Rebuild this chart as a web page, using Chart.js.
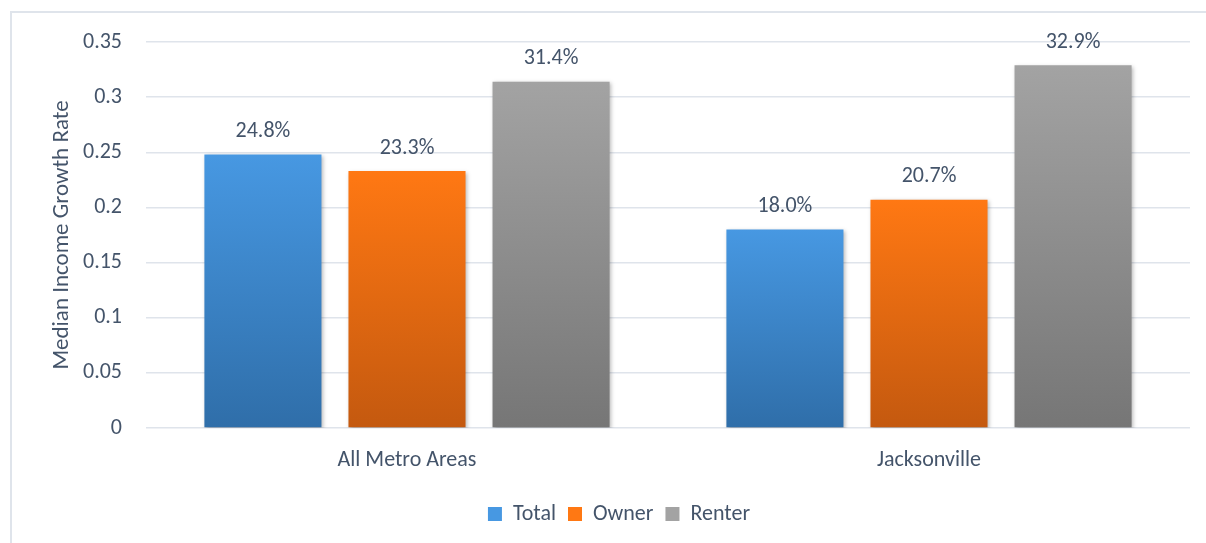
<!DOCTYPE html>
<html lang="en">

<head>
    <meta charset="UTF-8">
    <title>Median Income Growth Rate</title>
    <script src="https://cdn.jsdelivr.net/npm/chart.js"></script>
    <style>
        html, body {
            margin: 0;
            padding: 0;
            background: #ffffff;
            overflow: hidden;
        }

        .frame {
            position: absolute;
            left: 10px;
            top: 11px;
            width: 1220px;
            height: 560px;
            border: 2px solid #dfe4eb;
        }

        .chart-box {
            position: absolute;
            left: 0;
            top: 0;
            width: 1206px;
            height: 543px;
        }
    </style>
</head>

<body>
    <div class="frame"></div>
    <div class="chart-box">
        <canvas id="myChart"></canvas>
    </div>

    <script>
        const categories = ['All Metro Areas', 'Jacksonville'];
        const totalValues = [0.248, 0.180];
        const ownerValues = [0.233, 0.207];
        const renterValues = [0.314, 0.329];
        const yTicks = [0, 0.05, 0.1, 0.15, 0.2, 0.25, 0.3, 0.35];

        const textColor = '#44546a';
        const fontFamily = "Carlito, Lato, 'Open Sans', sans-serif";

        // top / bottom colours of each bar's gradient
        const gradients = {
            Total: ['#4798e2', '#2f6ea9'],
            Owner: ['#ff7813', '#c4590f'],
            Renter: ['#a3a3a3', '#767676']
        };

        function barFill(name) {
            return function (context) {
                const chart = context.chart;
                const area = chart.chartArea;
                if (!area) return gradients[name][0];
                const yScale = chart.scales.y;
                const v = context.raw;
                let top = area.top, bottom = area.bottom;
                if (typeof v === 'number') {
                    top = yScale.getPixelForValue(v);
                    bottom = yScale.getPixelForValue(0);
                }
                if (bottom - top < 1) bottom = top + 1;
                const g = chart.ctx.createLinearGradient(0, top, 0, bottom);
                g.addColorStop(0, gradients[name][0]);
                g.addColorStop(1, gradients[name][1]);
                return g;
            };
        }

        // soft shadow under the bars, like the office chart
        const barShadow = {
            id: 'barShadow',
            beforeDatasetsDraw(chart) {
                const ctx = chart.ctx;
                ctx.save();
                ctx.shadowColor = 'rgba(0,0,0,0.28)';
                ctx.shadowBlur = 4;
                ctx.shadowOffsetX = 1.5;
                ctx.shadowOffsetY = 1.5;
            },
            afterDatasetsDraw(chart) {
                chart.ctx.restore();
            }
        };

        // percent labels above each bar
        const valueLabels = {
            id: 'valueLabels',
            afterDatasetsDraw(chart) {
                const ctx = chart.ctx;
                ctx.save();
                ctx.shadowColor = 'transparent';
                ctx.fillStyle = textColor;
                ctx.font = '22px ' + fontFamily;
                ctx.textAlign = 'center';
                ctx.textBaseline = 'middle';
                chart.data.datasets.forEach((ds, i) => {
                    const meta = chart.getDatasetMeta(i);
                    meta.data.forEach((bar, j) => {
                        const label = (ds.data[j] * 100).toFixed(1) + '%';
                        ctx.fillText(label, bar.x, bar.y - 23);
                    });
                });
                ctx.restore();
            }
        };

        const ctx = document.getElementById('myChart').getContext('2d');
        new Chart(ctx, {
            type: 'bar',
            data: {
                labels: categories,
                datasets: [
                    { label: 'Total', data: totalValues, backgroundColor: barFill('Total') },
                    { label: 'Owner', data: ownerValues, backgroundColor: barFill('Owner') },
                    { label: 'Renter', data: renterValues, backgroundColor: barFill('Renter') }
                ]
            },
            options: {
                responsive: true,
                maintainAspectRatio: false,
                animation: false,
                categoryPercentage: 0.828,
                barPercentage: 0.8125,
                layout: {
                    padding: { left: 48, right: 16, top: 42, bottom: 8 }
                },
                plugins: {
                    legend: {
                        position: 'bottom',
                        labels: {
                            color: textColor,
                            font: { family: fontFamily, size: 22 },
                            boxWidth: 14,
                            boxHeight: 14,
                            padding: 12,
                            generateLabels(chart) {
                                return chart.data.datasets.map((ds, i) => ({
                                    text: ds.label,
                                    fillStyle: gradients[ds.label][0],
                                    strokeStyle: 'transparent',
                                    lineWidth: 0,
                                    fontColor: textColor,
                                    datasetIndex: i
                                }));
                            }
                        }
                    },
                    tooltip: { enabled: false }
                },
                scales: {
                    x: {
                        grid: { display: false, drawTicks: false },
                        border: { display: false },
                        ticks: {
                            color: textColor,
                            font: { family: fontFamily, size: 22 },
                            padding: 19
                        },
                        afterFit(scale) {
                            scale.height = 63;
                        }
                    },
                    y: {
                        min: 0,
                        max: 0.35,
                        afterBuildTicks(scale) {
                            scale.ticks = yTicks.map(v => ({ value: v }));
                        },
                        grid: {
                            color: '#dfe4eb',
                            lineWidth: 1.5,
                            drawTicks: false
                        },
                        border: { display: false },
                        ticks: {
                            color: textColor,
                            font: { family: fontFamily, size: 22 },
                            padding: 24,
                            callback: v => String(Math.round(v * 100) / 100)
                        },
                        title: {
                            display: true,
                            text: 'Median Income Growth Rate',
                            color: textColor,
                            font: { family: fontFamily, size: 23 },
                            padding: 0
                        },
                        afterFit(scale) {
                            scale.width = 98;
                        }
                    }
                }
            },
            plugins: [barShadow, valueLabels]
        });
    </script>

</body>

</html>
